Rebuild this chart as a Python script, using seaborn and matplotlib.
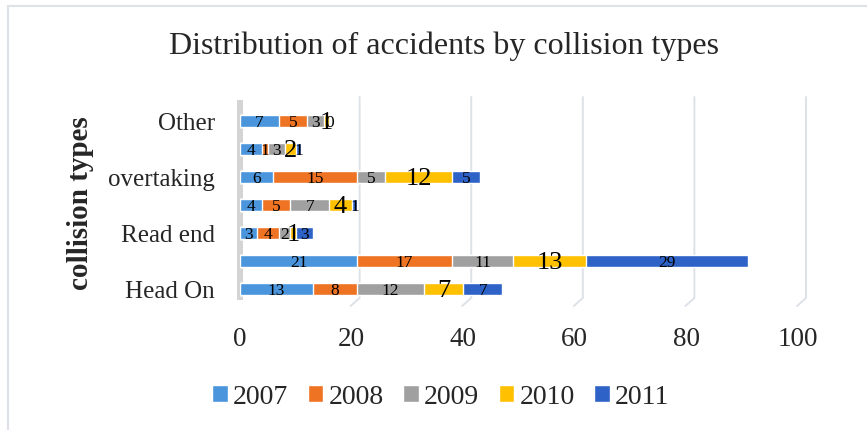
import numpy as np
import pandas as pd
import seaborn as sns
import matplotlib.pyplot as plt
from matplotlib.patches import Rectangle, Patch

# data (top to bottom as drawn); the unlabelled rows are skipped tick labels
categories = ["Other", "type 6", "overtaking", "type 4", "Read end", "type 2", "Head On"]
shown_labels = ["Other", "", "overtaking", "", "Read end", "", "Head On"]
years = ["2007", "2008", "2009", "2010", "2011"]
v2007 = [7, 4, 6, 4, 3, 21, 13]
v2008 = [5, 1, 15, 5, 4, 17, 8]
v2009 = [3, 3, 5, 7, 2, 11, 12]
v2010 = [1, 2, 12, 4, 1, 13, 7]
v2011 = [0, 1, 5, 1, 3, 29, 7]
colors = ["#4A95DB", "#EE7322", "#A0A0A0", "#FFC000", "#2E62C6"]

sns.set_style("white")
plt.rcParams["font.family"] = ["Liberation Serif", "DejaVu Serif"]

df = pd.DataFrame({"type": categories, "2007": v2007, "2008": v2008,
                   "2009": v2009, "2010": v2010, "2011": v2011})
cum = df[years].cumsum(axis=1)

W, H = 867, 430
fig = plt.figure(figsize=(W / 100, H / 100), dpi=100)
ax = fig.add_axes([240 / W, 1 - 303 / H, 558 / W, 196 / H])

# 3D-ish back wall grid (shifted a bit to the right of the ticks), pixel coords
for gx in [20, 40, 60, 80, 100]:
    xp = 240 + gx * 5.58
    ax.plot([xp + 8, xp + 8, xp - 1], [H - 97, H - 298, H - 306], color="#DDE2E8",
            lw=1.4, transform=None, clip_on=False, zorder=0)
fig.add_artist(Rectangle((237 / W, 1 - 300 / H), 6 / W, 200 / H,
                         facecolor="#D4D4D4", edgecolor="none", zorder=0))

# stacked bars: draw cumulative totals from the last year back to the first
for i in range(len(years) - 1, -1, -1):
    sns.barplot(x=cum[years[i]], y=df["type"], orient="h", color=colors[i],
                width=0.45, saturation=1, ax=ax, zorder=2)

for i, yr in enumerate(years):
    for j in range(len(categories)):
        val = df[yr][j]
        xc = cum[yr][j] - val / 2
        size = 19 if yr == "2010" else 12.5
        ax.text(xc, j + 0.08, str(val), ha="center", va="center",
                fontsize=size, color="black", zorder=5)

ax.set_xlim(0, 100)
ax.set_ylim(6.5, -0.5)
ax.set_xticks([0, 20, 40, 60, 80, 100])
ax.set_xticklabels(["0", "20", "40", "60", "80", "100"], fontsize=19.5)
ax.set_yticks(range(len(categories)))
ax.set_yticklabels(shown_labels, fontsize=18)
ax.tick_params(axis="x", pad=17, length=0)
ax.tick_params(axis="y", pad=18, length=0)
ax.set_xlabel("")
ax.set_ylabel("")
for s in ax.spines.values():
    s.set_visible(False)
ax.patch.set_alpha(0)

fig.text(80 / W, 1 - 203 / H, "collision types", rotation=90, ha="center",
         va="center", fontsize=21, fontweight="bold")
fig.text(444 / W, 1 - 46 / H, "Distribution of accidents by collision types",
         ha="center", va="center", fontsize=23)

handles = [Patch(facecolor=c) for c in colors]
fig.legend(handles, years, loc="center", bbox_to_anchor=(441 / W, 1 - 397 / H),
           ncol=5, frameon=False, fontsize=20, handlelength=0.55, handleheight=0.55,
           handletextpad=0.2, columnspacing=0.7)

# outer chart border
fig.add_artist(Rectangle((8 / W, -0.05), 1.1, 1 - 6 / H + 0.05, fill=False,
                         edgecolor="#DDE2E8", lw=1.5))

fig.savefig("out.png", dpi=100)
